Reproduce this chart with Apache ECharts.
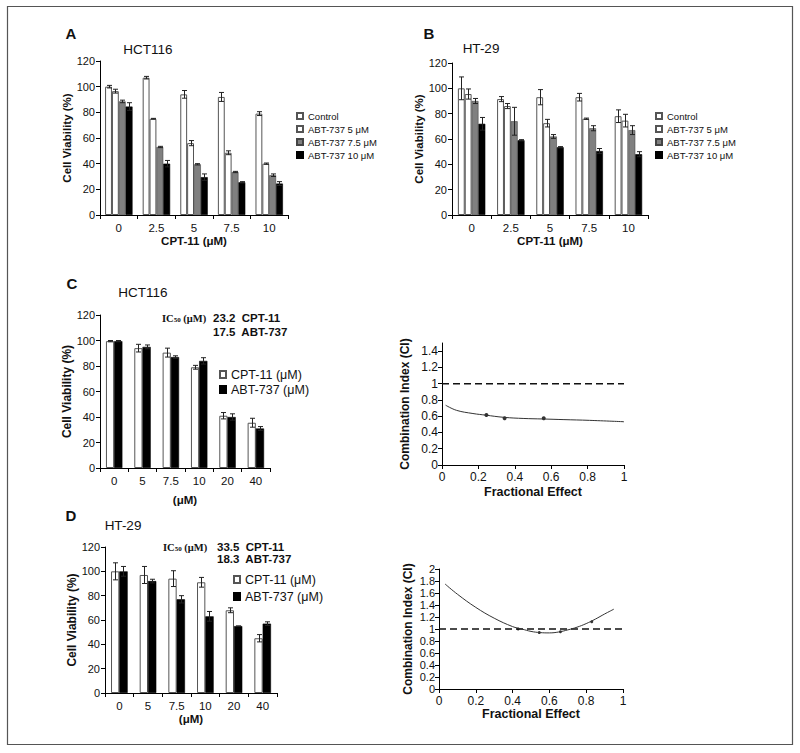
<!DOCTYPE html>
<html><head><meta charset="utf-8">
<script src="https://cdn.jsdelivr.net/npm/echarts@6/dist/echarts.min.js"></script>
<style>html,body{margin:0;padding:0;background:#fff}#c{width:800px;height:753px}</style>
</head><body><div id="c"></div>
<script>
// ---- Panel A (HCT116) ----
const catsA = ['0','2.5','5','7.5','10'];
const aCtrl = [100,107,94,92,79], aCtrlErr = [1,1,3,3.5,1.5];
const a5 = [96.5,75,56,48.5,40], a5Err = [1.5,0.3,2,1.5,0.5];
const a75 = [88.5,53,39.5,33.5,31], a75Err = [1,0.5,0.5,0.5,1];
const a10 = [84.5,40,29.5,25.5,24.5], a10Err = [3,2.5,2.5,0.5,1.5];
// ---- Panel B (HT-29) ----
const catsB = ['0','2.5','5','7.5','10'];
const bCtrl = [100,91.5,93,93,78], bCtrlErr = [9,2,6,3,5];
const b5 = [95.5,86,72.5,76,74.5], b5Err = [4,2,3,0.5,5];
const b75 = [90,74,62,68.5,67], b75Err = [2,11,1.5,2,3.5];
const b10 = [72,59,53.5,50.5,48], b10Err = [5,0.5,0.5,2,2];
// ---- Panel C (HCT116 single agents) ----
const catsC = ['0','5','7.5','10','20','40'];
const cCpt = [99.5,94,90.5,79,41,35.5], cCptErr = [0.5,3,3.5,1.5,2.5,3.5];
const cAbt = [99.5,95,87,84,40,31], cAbtErr = [0.5,1.5,1,2.5,2.5,1.5];
// ---- Panel D (HT-29 single agents) ----
const catsD = ['0','5','7.5','10','20','40'];
const dCpt = [100,97,94,91,68,45], dCptErr = [7,7,6.5,4,2,3];
const dAbt = [100,92,77,63,55,57], dAbtErr = [4,1.5,3,4,0,1.5];
// ---- Combination index curves ----
const ciCFa = [0.02,0.08,0.17,0.24,0.34,0.45,0.55,0.67,0.81,1.0];
const ciCVal = [0.735,0.672,0.633,0.613,0.586,0.572,0.566,0.558,0.549,0.532];
const ciCPtFa = [0.244,0.344,0.559];
const ciCPtVal = [0.615,0.575,0.575];
const ciDFa = [0.033,0.1,0.2,0.3,0.4,0.45,0.5,0.55,0.6,0.65,0.7,0.75,0.8,0.85,0.9,0.95];
const ciDVal = [1.75,1.58,1.36,1.18,1.04,1.0,0.96,0.94,0.935,0.95,0.985,1.03,1.09,1.165,1.25,1.33];
const ciDPtFa = [0.43,0.545,0.66,0.83];
const ciDPtVal = [1.0,0.94,0.955,1.12];
const refFa = [0,1];
const refVal = [1,1];

const FF = '"Liberation Sans", Arial, sans-serif';
const chart = echarts.init(document.getElementById('c'), null, {renderer:'svg'});

const WHITE = {color:'#ffffff', borderColor:'#555', borderWidth:1};
const GRAY = {color:'#808080', borderColor:'#444', borderWidth:0.6};
const BLACK = {color:'#000000', borderColor:'#000', borderWidth:0.6};

function barS(name, xi, data, style, gap){
  return {type:'bar', name, xAxisIndex:xi, yAxisIndex:xi, data, itemStyle:style,
    barGap:'0%', barCategoryGap:gap, silent:true, animation:false};
}
function errS(xi, vals, errs, k, n, gapFrac){
  return {type:'custom', xAxisIndex:xi, yAxisIndex:xi, z:5, silent:true, animation:false,
    data: vals.map((v,i)=>[i,v,errs[i]]),
    renderItem:(params, api)=>{
      const i = api.value(0), v = api.value(1), e = api.value(2);
      const cw = api.size([1,0])[0];
      const gw = cw*(1-gapFrac), bw = gw/n;
      const c = api.coord([i,v]);
      const x = Math.round(c[0]-gw/2+bw*(k+0.5))+0.5;
      const top = api.coord([i,v+e])[1], bot = api.coord([i,v-e])[1];
      const cap = 2.5, st = {stroke:'#222', lineWidth:1};
      return {type:'group', children:[
        {type:'line', shape:{x1:x,y1:top,x2:x,y2:bot}, style:st},
        {type:'line', shape:{x1:x-cap,y1:top,x2:x+cap,y2:top}, style:st},
        {type:'line', shape:{x1:x-cap,y1:bot,x2:x+cap,y2:bot}, style:st}
      ]};
    }};
}
const axLine = {show:true, lineStyle:{color:'#000', width:1}};
const tick = {show:true, length:4, lineStyle:{color:'#000'}};
function catX(gi, cats, name, nameGap){
  return {type:'category', gridIndex:gi, data:cats, axisLine:axLine, axisTick:tick,
    axisLabel:{fontSize:11.5, color:'#111', fontFamily:FF, margin:7},
    name, nameLocation:'middle', nameGap,
    nameTextStyle:{fontWeight:'bold', fontSize:11.5, color:'#111', fontFamily:FF}};
}
function valY(gi, max, interval, name, nameGap, fs){
  return {type:'value', gridIndex:gi, min:0, max, interval, splitLine:{show:false},
    axisLine:axLine, axisTick:tick,
    axisLabel:{fontSize:11, color:'#111', fontFamily:FF, margin:5},
    name, nameLocation:'middle', nameGap, nameRotate:90,
    nameTextStyle:{fontWeight:'bold', fontSize:fs, color:'#111', fontFamily:FF}};
}
function ciY(gi, max, nameGap, fs){
  return {type:'value', gridIndex:gi, min:0, max, interval:0.2, splitLine:{show:false},
    axisLine:axLine, axisTick:tick,
    axisLabel:{fontSize:fs, lineHeight:fs, color:'#111', fontFamily:FF, margin:4, showMaxLabel: max===2},
    name:'Combination Index (CI)', nameLocation:'middle', nameGap, nameRotate:90,
    nameTextStyle:{fontWeight:'bold', fontSize:12, color:'#111', fontFamily:FF}};
}
function ciX(gi, nameGap){
  return {type:'value', gridIndex:gi, min:0, max:1, interval:0.2, splitLine:{show:false},
    axisLine:axLine, axisTick:tick,
    axisLabel:{fontSize:12, color:'#111', fontFamily:FF, margin:6},
    name:'Fractional Effect', nameLocation:'middle', nameGap,
    nameTextStyle:{fontWeight:'bold', fontSize:12.5, color:'#111', fontFamily:FF}};
}
function txt(x,y,text,font,align){
  return {type:'text', x, y, silent:true, style:{text, font, fill:'#111', textAlign:align||'center', textVerticalAlign:'middle'}};
}
function ic50(x,y){
  return {type:'text', x, y, silent:true, style:{text:'{a|IC}{s|50}{a| (\u03bcM)}', textAlign:'left', textVerticalAlign:'middle',
    rich:{a:{font:'bold 10.5px "Liberation Serif", serif', fill:'#111', verticalAlign:'middle'},
          s:{font:'bold 7px "Liberation Serif", serif', fill:'#111', verticalAlign:'bottom', padding:[4,0,0,0]}}}};
}
const gA = 0.27, gB = 0.30, gC = 0.42, gD = 0.42;
const legStyle = (fs)=>({fontSize:fs, color:'#111', fontFamily:FF});

const option = {
  animation:false,
  textStyle:{fontFamily:FF},
  grid:[
    {left:100, top:61, width:188, height:154},
    {left:452, top:63, width:196, height:152},
    {left:100, top:315, width:170, height:153},
    {left:105, top:547, width:172, height:146},
    {left:442, top:343, width:182, height:122},
    {left:439, top:569, width:184, height:120}
  ],
  xAxis:[
    catX(0, catsA, 'CPT-11 (\u03bcM)', 16),
    catX(1, catsB, 'CPT-11 (\u03bcM)', 16),
    catX(2, catsC, '(\u03bcM)', 26),
    catX(3, catsD, '(\u03bcM)', 19),
    ciX(4, 20),
    ciX(5, 17)
  ],
  yAxis:[
    valY(0, 120, 20, 'Cell Viability (%)', 22, 11.5),
    valY(1, 120, 20, 'Cell Viability (%)', 23, 11.5),
    valY(2, 120, 20, 'Cell Viability (%)', 26, 12),
    valY(3, 120, 20, 'Cell Viability (%)', 26, 12),
    ciY(4, 1.5, 31, 12),
    ciY(5, 2, 25, 11)
  ],
  legend:[
    {data:['Control','ABT-737 5 \u03bcM','ABT-737 7.5 \u03bcM','ABT-737 10 \u03bcM'], orient:'vertical', left:296, top:111,
     itemWidth:6, itemHeight:6, itemGap:3, icon:'rect', selectedMode:false, textStyle:legStyle(9.5), padding:0},
    {data:['Control','ABT-737 5 \u03bcM','ABT-737 7.5 \u03bcM','ABT-737 10 \u03bcM'], orient:'vertical', left:655, top:111,
     itemWidth:6, itemHeight:6, itemGap:3, icon:'rect', selectedMode:false, textStyle:legStyle(9.5), padding:0},
    {data:['CPT-11 (\u03bcM)','ABT-737 (\u03bcM)'], orient:'vertical', left:219, top:368,
     itemWidth:6, itemHeight:7, itemGap:2, icon:'rect', selectedMode:false, textStyle:legStyle(12.5), padding:0},
    {data:['CPT-11 (\u03bcM)','ABT-737 (\u03bcM)'], orient:'vertical', left:233, top:573,
     itemWidth:6, itemHeight:7, itemGap:4, icon:'rect', selectedMode:false, textStyle:legStyle(12.5), padding:0}
  ],
  series:[
    barS('Control',0,aCtrl,WHITE,'27%'), barS('ABT-737 5 \u03bcM',0,a5,WHITE,'27%'),
    barS('ABT-737 7.5 \u03bcM',0,a75,GRAY,'27%'), barS('ABT-737 10 \u03bcM',0,a10,BLACK,'27%'),
    errS(0,aCtrl,aCtrlErr,0,4,gA), errS(0,a5,a5Err,1,4,gA), errS(0,a75,a75Err,2,4,gA), errS(0,a10,a10Err,3,4,gA),
    barS('Control',1,bCtrl,WHITE,'30%'), barS('ABT-737 5 \u03bcM',1,b5,WHITE,'30%'),
    barS('ABT-737 7.5 \u03bcM',1,b75,GRAY,'30%'), barS('ABT-737 10 \u03bcM',1,b10,BLACK,'30%'),
    errS(1,bCtrl,bCtrlErr,0,4,gB), errS(1,b5,b5Err,1,4,gB), errS(1,b75,b75Err,2,4,gB), errS(1,b10,b10Err,3,4,gB),
    barS('CPT-11 (\u03bcM)',2,cCpt,WHITE,'42%'), barS('ABT-737 (\u03bcM)',2,cAbt,BLACK,'42%'),
    errS(2,cCpt,cCptErr,0,2,gC), errS(2,cAbt,cAbtErr,1,2,gC),
    barS('CPT-11 (\u03bcM)',3,dCpt,WHITE,'42%'), barS('ABT-737 (\u03bcM)',3,dAbt,BLACK,'42%'),
    errS(3,dCpt,dCptErr,0,2,gD), errS(3,dAbt,dAbtErr,1,2,gD),
    {type:'line', xAxisIndex:4, yAxisIndex:4, data:refFa.map((f,i)=>[f,refVal[i]]), showSymbol:false, silent:true,
     lineStyle:{color:'#111', width:1.5, type:[7,4]}},
    {type:'line', xAxisIndex:4, yAxisIndex:4, data:ciCFa.map((f,i)=>[f,ciCVal[i]]), smooth:0.4, showSymbol:false, silent:true,
     lineStyle:{color:'#333', width:1}},
    {type:'scatter', xAxisIndex:4, yAxisIndex:4, data:ciCPtFa.map((f,i)=>[f,ciCPtVal[i]]), symbolSize:4, silent:true,
     itemStyle:{color:'#000'}},
    {type:'line', xAxisIndex:5, yAxisIndex:5, data:refFa.map((f,i)=>[f,refVal[i]]), showSymbol:false, silent:true,
     lineStyle:{color:'#111', width:1.5, type:[7,4]}},
    {type:'line', xAxisIndex:5, yAxisIndex:5, data:ciDFa.map((f,i)=>[f,ciDVal[i]]), smooth:0.4, showSymbol:false, silent:true,
     lineStyle:{color:'#333', width:1}},
    {type:'scatter', xAxisIndex:5, yAxisIndex:5, data:ciDPtFa.map((f,i)=>[f,ciDPtVal[i]]), symbolSize:3, silent:true,
     itemStyle:{color:'#000'}}
  ],
  graphic:[
    {type:'rect', shape:{x:7.5,y:6.5,width:785,height:738}, silent:true, style:{fill:'none', stroke:'#555', lineWidth:1.2}},
    txt(71,33,'A','bold 15px '+FF),
    txt(429,33,'B','bold 15px '+FF),
    txt(72,283,'C','bold 15px '+FF),
    txt(71,515,'D','bold 15px '+FF),
    txt(148,49,'HCT116','13.5px '+FF),
    txt(481,48,'HT-29','13.5px '+FF),
    txt(143,292,'HCT116','13.5px '+FF),
    txt(123,525,'HT-29','13.5px '+FF),
    ic50(162,318),
    txt(213,318,'23.2  CPT-11','bold 11.5px '+FF,'left'),
    txt(213,332,'17.5  ABT-737','bold 11.5px '+FF,'left'),
    ic50(163,547),
    txt(217,547,'33.5  CPT-11','bold 11.5px '+FF,'left'),
    txt(217,559,'18.3  ABT-737','bold 11.5px '+FF,'left')
  ]
};
chart.setOption(option);
</script></body></html>
